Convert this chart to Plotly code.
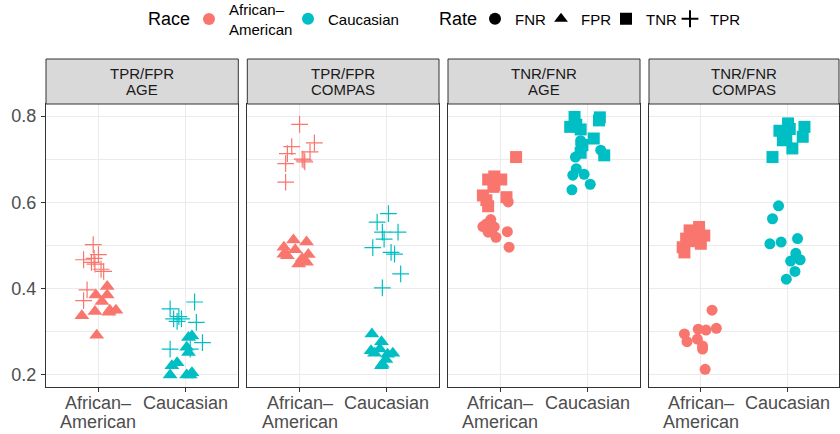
import plotly.graph_objects as go

# ---------------- data ----------------
races = ["African-American", "Caucasian"]
race_tick_lines = [["African–", "American"], ["Caucasian"]]
race_legend_text = ["African–<br>American", "Caucasian"]
race_colors = {"African-American": "#F8766D", "Caucasian": "#00BFC4"}
panel_lines = [["TPR/FPR", "AGE"], ["TPR/FPR", "COMPAS"], ["TNR/FNR", "AGE"], ["TNR/FNR", "COMPAS"]]
rates = ["FNR", "FPR", "TNR", "TPR"]

# panel 1: TPR/FPR, AGE
p1_aa_tpr = [0.502, 0.479, 0.467, 0.461, 0.457, 0.470, 0.440, 0.445, 0.397, 0.372]
p1_aa_tpr_jit = [-0.06, 0.00, -0.17, -0.08, -0.04, -0.05, 0.06, 0.03, -0.13, -0.17]
p1_aa_fpr = [0.405, 0.385, 0.385, 0.370, 0.337, 0.347, 0.345, 0.350, 0.292, 0.350]
p1_aa_fpr_jit = [0.10, -0.03, 0.10, 0.04, -0.19, -0.04, 0.12, 0.20, -0.02, 0.13]
p1_ca_tpr = [0.353, 0.369, 0.335, 0.330, 0.324, 0.322, 0.275, 0.260, 0.260, 0.330]
p1_ca_tpr_jit = [-0.18, 0.10, -0.08, -0.05, -0.10, 0.12, 0.19, -0.18, 0.05, -0.14]
p1_ca_fpr = [0.287, 0.290, 0.264, 0.252, 0.228, 0.221, 0.200, 0.200, 0.200, 0.205]
p1_ca_fpr_jit = [0.03, 0.07, 0.01, 0.03, -0.10, -0.16, -0.18, 0.05, 0.01, 0.07]

# panel 2: TPR/FPR, COMPAS
p2_aa_tpr = [0.781, 0.738, 0.729, 0.713, 0.717, 0.698, 0.690, 0.694, 0.700, 0.647]
p2_aa_tpr_jit = [0.00, 0.17, -0.09, -0.14, 0.12, 0.05, -0.16, 0.06, 0.03, -0.16]
p2_aa_fpr = [0.513, 0.496, 0.508, 0.476, 0.479, 0.457, 0.461, 0.480, 0.490, 0.470]
p2_aa_fpr_jit = [-0.07, -0.18, 0.08, -0.14, 0.10, -0.01, 0.08, -0.18, -0.05, 0.03]
p2_ca_tpr = [0.574, 0.554, 0.531, 0.531, 0.515, 0.495, 0.484, 0.480, 0.434, 0.402]
p2_ca_tpr_jit = [0.02, -0.11, 0.13, -0.05, -0.03, -0.16, 0.05, 0.09, 0.16, -0.05]
p2_ca_fpr = [0.295, 0.277, 0.256, 0.248, 0.250, 0.260, 0.236, 0.221, 0.225, 0.250]
p2_ca_fpr_jit = [-0.17, -0.06, -0.18, 0.01, 0.07, -0.08, -0.01, -0.06, -0.05, -0.14]

# panel 3: TNR/FNR, AGE
p3_aa_tnr = [0.705, 0.660, 0.653, 0.653, 0.636, 0.616, 0.612, 0.591, 0.640, 0.605]
p3_aa_tnr_jit = [0.18, -0.07, -0.14, 0.01, -0.08, -0.20, 0.07, -0.14, -0.07, -0.16]
p3_aa_fnr = [0.601, 0.560, 0.544, 0.543, 0.531, 0.519, 0.532, 0.496, 0.550, 0.535]
p3_aa_fnr_jit = [0.09, -0.11, -0.20, -0.07, -0.14, -0.05, 0.08, 0.10, -0.16, -0.10]
p3_ca_tnr = [0.798, 0.797, 0.775, 0.769, 0.748, 0.733, 0.709, 0.715, 0.790, 0.780]
p3_ca_tnr_jit = [-0.15, 0.14, -0.20, -0.08, 0.07, -0.06, 0.19, -0.08, 0.13, -0.13]
p3_ca_fnr = [0.743, 0.721, 0.705, 0.678, 0.663, 0.665, 0.642, 0.629, 0.735, 0.725]
p3_ca_fnr_jit = [-0.08, 0.15, -0.14, -0.13, -0.17, -0.04, 0.03, -0.18, -0.08, -0.06]

# panel 4: TNR/FNR, COMPAS
p4_aa_tnr = [0.543, 0.535, 0.523, 0.516, 0.512, 0.496, 0.504, 0.484, 0.520, 0.510]
p4_aa_tnr_jit = [-0.02, -0.13, 0.04, -0.17, -0.04, -0.21, 0.00, -0.19, -0.08, -0.12]
p4_aa_fnr = [0.350, 0.295, 0.306, 0.304, 0.308, 0.277, 0.283, 0.267, 0.260, 0.213]
p4_aa_fnr_jit = [0.13, -0.19, -0.03, 0.06, 0.18, -0.16, -0.04, 0.02, 0.02, 0.05]
p4_ca_tnr = [0.783, 0.775, 0.766, 0.756, 0.752, 0.744, 0.725, 0.705, 0.770, 0.750]
p4_ca_tnr_jit = [0.01, 0.20, -0.09, -0.03, 0.18, -0.05, 0.06, -0.17, 0.03, -0.01]
p4_ca_fnr = [0.592, 0.562, 0.516, 0.508, 0.504, 0.482, 0.467, 0.464, 0.440, 0.422]
p4_ca_fnr_jit = [-0.10, -0.17, 0.12, -0.07, -0.20, 0.10, 0.15, 0.04, 0.09, -0.01]

y_ticks = [0.2, 0.4, 0.6, 0.8]
y_minor = [0.3, 0.5, 0.7]

# ---------------- styling ----------------
FONT = "Liberation Sans, Arial, Helvetica, sans-serif"
rate_symbol = {"FNR": "circle", "FPR": "triangle-up", "TNR": "square", "TPR": "cross-thin"}
rate_size = {"FNR": 11, "FPR": 13, "TNR": 12, "TPR": 12}

panel_series = [
    [("African-American", "TPR", p1_aa_tpr, p1_aa_tpr_jit), ("African-American", "FPR", p1_aa_fpr, p1_aa_fpr_jit),
     ("Caucasian", "TPR", p1_ca_tpr, p1_ca_tpr_jit), ("Caucasian", "FPR", p1_ca_fpr, p1_ca_fpr_jit)],
    [("African-American", "TPR", p2_aa_tpr, p2_aa_tpr_jit), ("African-American", "FPR", p2_aa_fpr, p2_aa_fpr_jit),
     ("Caucasian", "TPR", p2_ca_tpr, p2_ca_tpr_jit), ("Caucasian", "FPR", p2_ca_fpr, p2_ca_fpr_jit)],
    [("African-American", "TNR", p3_aa_tnr, p3_aa_tnr_jit), ("African-American", "FNR", p3_aa_fnr, p3_aa_fnr_jit),
     ("Caucasian", "TNR", p3_ca_tnr, p3_ca_tnr_jit), ("Caucasian", "FNR", p3_ca_fnr, p3_ca_fnr_jit)],
    [("African-American", "TNR", p4_aa_tnr, p4_aa_tnr_jit), ("African-American", "FNR", p4_aa_fnr, p4_aa_fnr_jit),
     ("Caucasian", "TNR", p4_ca_tnr, p4_ca_tnr_jit), ("Caucasian", "FNR", p4_ca_fnr, p4_ca_fnr_jit)],
]

W, H = 840, 434

# layout positions in pixels
panel_top, panel_bottom = 104, 387
px_domains = [(46, 238.3), (247.3, 439), (448, 640), (649, 839)]
ml = px_domains[0][0]
mr = W - px_domains[-1][1]
mt = panel_top
mb = H - panel_bottom
pw = W - ml - mr
ph = H - mt - mb
domains = [((a - ml) / pw, min(1.0, (b - ml) / pw)) for a, b in px_domains]
strip_h = 45
legend_row = 19
race_legend_x = [189, 288]
rate_legend_x = [475, 541, 606, 670]


def py(ypx):
    return (panel_bottom - ypx) / ph


def pxx(xpx):
    return (xpx - ml) / pw


fig = go.Figure()

for i, series in enumerate(panel_series):
    xa = "x" if i == 0 else f"x{i+1}"
    ya = "y" if i == 0 else f"y{i+1}"
    for race, rate, vals, jit in series:
        base = races.index(race) + 1
        xs = [base + j for j in jit]
        color = race_colors[race]
        marker = dict(symbol=rate_symbol[rate], size=rate_size[rate], color=color)
        if rate == "TPR":
            marker["line"] = dict(color=color, width=1.2)
        else:
            marker["line"] = dict(width=0)
        fig.add_trace(go.Scatter(x=xs, y=vals, mode="markers", marker=marker,
                                 xaxis=xa, yaxis=ya, showlegend=False, hoverinfo="skip"))

layout = dict(
    width=W, height=H,
    margin=dict(l=ml, r=mr, t=mt, b=mb, autoexpand=False),
    paper_bgcolor="white", plot_bgcolor="white",
    font=dict(family=FONT, color="#1A1A1A"),
)

# legend entries: one small legend per key so each can be placed like the original
legend_names = []
for k, race in enumerate(races):
    lname = "legend" if k == 0 else f"legend{k + 2}"
    legend_names.append((lname, race_legend_x[k]))
    fig.add_trace(go.Scatter(x=[None], y=[None], mode="markers", name=race_legend_text[k],
                             marker=dict(symbol="circle", size=11, color=race_colors[race]),
                             legend=lname, showlegend=True))
for k, rate in enumerate(rates):
    lname = "legend2" if k == 0 else f"legend{k + 3}"
    legend_names.append((lname, rate_legend_x[k]))
    m = dict(symbol=rate_symbol[rate], size=11 if rate != "TPR" else 12, color="black")
    if rate == "TPR":
        m["line"] = dict(color="black", width=1)
    fig.add_trace(go.Scatter(x=[None], y=[None], mode="markers", name=rate,
                             marker=m, legend=lname, showlegend=True))

for lname, lx in legend_names:
    layout[lname] = dict(orientation="h", xref="container", yref="container",
                         x=lx / W, y=1 - legend_row / H, xanchor="left", yanchor="middle",
                         font=dict(size=15, color="black", family=FONT),
                         bgcolor="rgba(0,0,0,0)", itemsizing="constant")

shapes = []
annotations = [
    dict(text="Race", xref="paper", yref="paper", x=pxx(146), y=py(legend_row),
         xanchor="left", yanchor="middle", showarrow=False,
         font=dict(size=18, color="black", family=FONT)),
    dict(text="Rate", xref="paper", yref="paper", x=pxx(437), y=py(legend_row),
         xanchor="left", yanchor="middle", showarrow=False,
         font=dict(size=18, color="black", family=FONT)),
]
for i in range(4):
    xk = "xaxis" if i == 0 else f"xaxis{i+1}"
    yk = "yaxis" if i == 0 else f"yaxis{i+1}"
    xa = "x" if i == 0 else f"x{i+1}"
    ya = "y" if i == 0 else f"y{i+1}"
    layout[xk] = dict(domain=list(domains[i]), range=[0.4, 2.6], anchor=ya, automargin=False,
                      tickmode="array", tickvals=[1, 2], showticklabels=False,
                      showgrid=True, gridcolor="#EBEBEB", gridwidth=1.1,
                      zeroline=False, showline=True, mirror=True, linecolor="#333333", linewidth=1,
                      ticks="outside", ticklen=4, tickcolor="#333333", tickwidth=1,
                      fixedrange=True)
    layout[yk] = dict(domain=[0, 1], range=[0.172, 0.828], anchor=xa, automargin=False,
                      tickmode="array", tickvals=y_ticks, ticktext=[f"{v:.1f}" for v in y_ticks],
                      showticklabels=(i == 0), ticklabelstandoff=1,
                      showgrid=True, gridcolor="#EBEBEB", gridwidth=1.1,
                      minor=dict(tickmode="array", tickvals=y_minor, showgrid=True,
                                 gridcolor="#EBEBEB", gridwidth=0.55, ticks=""),
                      zeroline=False, showline=True, mirror=True, linecolor="#333333", linewidth=1,
                      ticks="outside" if i == 0 else "", ticklen=4, tickcolor="#333333", tickwidth=1,
                      tickfont=dict(size=18, color="#4D4D4D", family=FONT), fixedrange=True)
    if i > 0:
        layout[yk]["matches"] = "y"
    # strip
    shapes.append(dict(type="rect", xref=f"{xa} domain", yref="paper",
                       x0=0, x1=1, y0=1, y1=1 + strip_h / ph,
                       fillcolor="#D9D9D9", line=dict(color="#333333", width=1), layer="above"))
    for line_txt, ypx in zip(panel_lines[i], [73, 89.5]):
        annotations.append(dict(text=line_txt, xref=f"{xa} domain", yref="paper",
                                x=0.5, y=py(ypx), showarrow=False,
                                xanchor="center", yanchor="middle",
                                font=dict(size=15, color="#1A1A1A", family=FONT)))
    # category labels under each panel
    for c, lines in enumerate(race_tick_lines):
        for line_txt, ypx in zip(lines, [403, 422]):
            annotations.append(dict(text=line_txt, xref=xa, yref="paper",
                                    x=c + 1, y=py(ypx), showarrow=False,
                                    xanchor="center", yanchor="middle",
                                    font=dict(size=18, color="#4D4D4D", family=FONT)))

layout["shapes"] = shapes
layout["annotations"] = annotations
fig.update_layout(**layout)

fig.write_html("out.html", config={"displayModeBar": False},
               post_script="document.body.style.margin='0';")
